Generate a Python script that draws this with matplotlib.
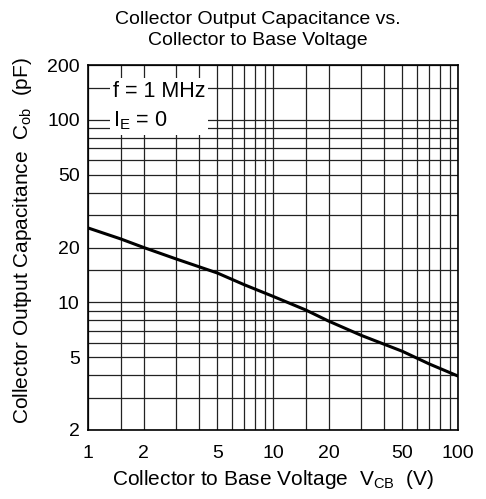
import matplotlib
matplotlib.use("Agg")
import matplotlib.pyplot as plt
import numpy as np
from matplotlib.ticker import FixedLocator, FixedFormatter, NullFormatter

plt.rcParams['font.family'] = ['Liberation Sans', 'DejaVu Sans']

vcb = [1, 1.5, 2, 3, 5, 7, 10, 15, 20, 30, 50, 70, 100]
cob = [25.6, 22.3, 20.0, 17.3, 14.5, 12.5, 10.8, 9.1, 7.9, 6.6, 5.4, 4.6, 3.95]

x_ticks = [1, 2, 5, 10, 20, 50, 100]
x_ticklabels = ["1", "2", "5", "10", "20", "50", "100"]
y_ticks = [2, 5, 10, 20, 50, 100, 200]
y_ticklabels = ["2", "5", "10", "20", "50", "100", "200"]
x_grid = [1, 1.5, 2, 3, 4, 5, 6, 7, 8, 9, 10, 15, 20, 30, 40, 50, 60, 70, 80, 90, 100]
y_grid = [2, 3, 4, 5, 6, 7, 8, 9, 10, 15, 20, 30, 40, 50, 60, 70, 80, 90, 100, 150, 200]

FS = 14
LFS = 15

fig = plt.figure(figsize=(4.86, 4.99), dpi=100)
ax = fig.add_axes([88/486, 1 - 430/499, 370/486, 365/499])
ax.set_xscale('log')
ax.set_yscale('log')
ax.set_xlim(1, 100)
ax.set_ylim(2, 200)

for gx in x_grid:
    ax.axvline(gx, color='#222222', lw=0.9, zorder=1)
for gy in y_grid:
    ax.axhline(gy, color='#222222', lw=0.9, zorder=1)

ax.plot(vcb, cob, color='black', lw=2.2, zorder=3)

ax.xaxis.set_major_locator(FixedLocator(x_ticks))
ax.xaxis.set_major_formatter(FixedFormatter(x_ticklabels))
ax.xaxis.set_minor_formatter(NullFormatter())
ax.yaxis.set_major_locator(FixedLocator(y_ticks))
ax.yaxis.set_major_formatter(FixedFormatter(y_ticklabels))
ax.yaxis.set_minor_formatter(NullFormatter())
ax.tick_params(axis='x', which='both', length=0, labelsize=FS, pad=11)
ax.tick_params(axis='y', which='both', length=0, labelsize=FS, pad=6)
for s in ax.spines.values():
    s.set_linewidth(1.2)
    s.set_color('black')

ax.text(1.36, 119, "f = 1 MHz\nI$_\\mathregular{E}$ = 0", fontsize=15.5, va='center', ha='left',
        linespacing=1.45,
        bbox=dict(facecolor='white', edgecolor='none', pad=2), zorder=4)

fig.text(258/486, 1 - 30/499, "Collector Output Capacitance vs.\nCollector to Base Voltage",
         fontsize=FS, ha='center', va='center', linespacing=1.3)
ax.set_xlabel("Collector to Base Voltage  V$_\\mathregular{CB}$  (V)", fontsize=LFS, labelpad=4)
ax.set_ylabel("Collector Output Capacitance  C$_\\mathregular{ob}$  (pF)", fontsize=LFS)
ax.yaxis.set_label_coords(-0.145, 0.52)

fig.savefig("out.png", dpi=100)
